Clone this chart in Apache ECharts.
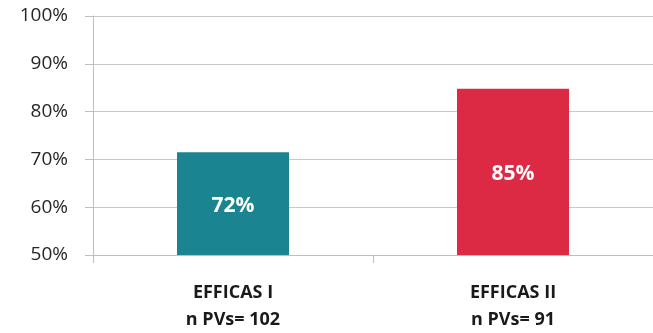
<!DOCTYPE html>
<html><head><meta charset="utf-8">
<script src="https://cdn.jsdelivr.net/npm/echarts@6/dist/echarts.min.js"></script>
<style>html,body{margin:0;padding:0;background:#fff}#c{width:653px;height:333px}</style>
</head><body><div id="c"></div>
<script>
const categories = ['EFFICAS I\nn PVs= 102', 'EFFICAS II\nn PVs= 91'];
const values = [71.5, 84.8];
const barColors = ['#1a8590', '#dc2a44'];
const yTicks = [50, 60, 70, 80, 90, 100];

const chart = echarts.init(document.getElementById('c'));
chart.setOption({
  animation: false,
  grid: { left: 93, top: 16, width: 568, height: 240, containLabel: false },
  xAxis: {
    type: 'category', data: categories,
    axisLine: { lineStyle: { color: '#bfbfbf', width: 1 } },
    axisTick: { show: true, alignWithLabel: false, length: 8, lineStyle: { color: '#bfbfbf' } },
    axisLabel: { color: '#1a1a1a', fontFamily: 'Open Sans', fontWeight: 'bold', fontSize: 18, lineHeight: 27, margin: 24 }
  },
  yAxis: {
    type: 'value', min: 50, max: 100, interval: 10,
    axisLine: { show: true, lineStyle: { color: '#bfbfbf' } },
    axisTick: { show: true, length: 8, lineStyle: { color: '#bfbfbf' } },
    splitLine: { lineStyle: { color: '#c8c8c8' } },
    axisLabel: { color: '#262626', fontFamily: 'Open Sans', fontSize: 19, margin: 25,
      formatter: v => yTicks.includes(v) ? v + '%' : '' }
  },
  series: [{
    type: 'bar', barWidth: 112,
    data: values.map((v, i) => ({ value: v, itemStyle: { color: barColors[i] } })),
    label: { show: true, position: 'inside', color: '#fff', fontFamily: 'Open Sans', fontWeight: 'bold', fontSize: 21,
      offset: [0, 2],
      formatter: p => Math.round(p.value) + '%' }
  }]
});
</script></body></html>
